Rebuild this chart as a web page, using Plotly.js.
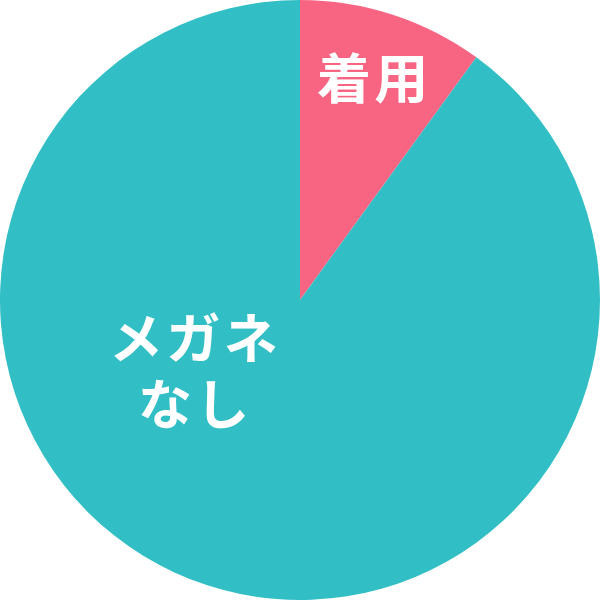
<!DOCTYPE html>
<html>
<head>
<meta charset="utf-8">
<script src="https://cdn.plot.ly/plotly-3.0.1.min.js"></script>
<style>html,body{margin:0;padding:0;background:#fff;}#chart{width:600px;height:600px;}</style>
</head>
<body>
<div id="chart"></div>
<script>
const labels = ["着用", "メガネなし"];
const displayLines = [["着\u200A用"], ["メ\u200Aガ\u200Aネ", "な\u200Aし"]];
const values = [10, 90];
const colors = ["#F76582", "#31BFC5"];

const trace = {
  type: "pie",
  labels: labels,
  values: values,
  sort: false,
  direction: "clockwise",
  rotation: 0,
  textinfo: "none",
  hoverinfo: "none",
  marker: { colors: colors, line: { width: 0 } },
  domain: { x: [0, 1], y: [0, 1] },
  showlegend: false
};

const font = { family: "Noto Sans CJK JP", size: 54, color: "#ffffff", weight: 700 };
// label anchor positions in pixels (centre of each text line)
const labelPos = [[[372, 75]], [[194, 335], [194, 401]]];
const annotations = [];
displayLines.forEach((lines, i) => {
  lines.forEach((t, j) => {
    const p = labelPos[i][j];
    annotations.push({ text: "<b>" + t + "</b>", x: p[0] / 600, y: 1 - p[1] / 600, xref: "paper", yref: "paper", showarrow: false, font: font, xanchor: "center", yanchor: "middle" });
  });
});

const layout = {
  width: 600, height: 600,
  margin: { l: 0, r: 0, t: 0, b: 0 },
  paper_bgcolor: "#ffffff",
  showlegend: false,
  annotations: annotations
};

Plotly.newPlot("chart", [trace], layout, { staticPlot: true, displayModeBar: false });
</script>
</body>
</html>
